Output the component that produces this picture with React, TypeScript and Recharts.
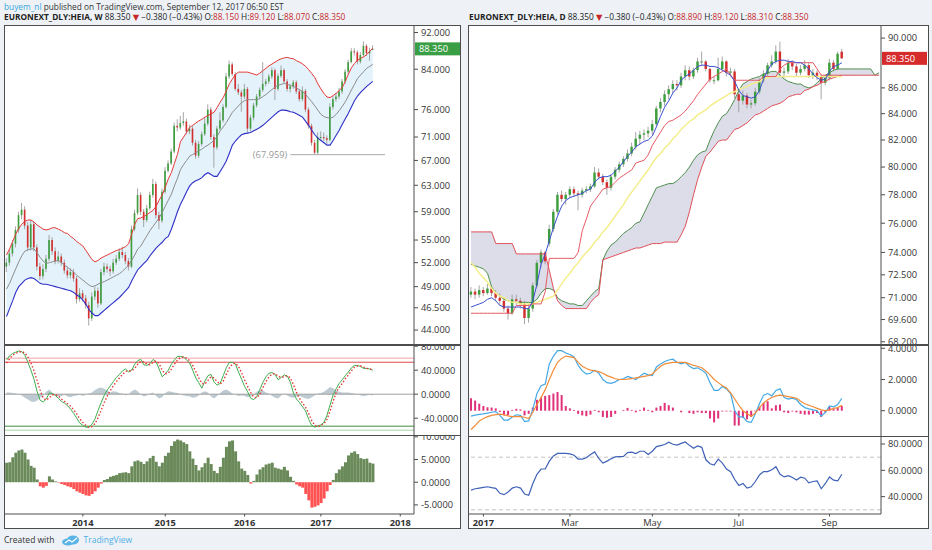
import React from 'react';
import { ComposedChart, Bar, Line, Area, XAxis, YAxis, ReferenceLine, Cell } from 'recharts';

const FONT = '"Open Sans", "Noto Sans", "DejaVu Sans", sans-serif';
const AXIS_COLOR = '#4d4d4d';
const TEXT = '#333333';
const UP = '#3d9e3d';
const DOWN = '#d42f2f';
const WICK = '#9c9c9c';
const VAL_RED = '#c62828';

// ================= LEFT PANEL (weekly, 2-week slots) =================
const W_SLOTS = 134;
// [open, high, low, close]
const wCandles: number[][] = [
  [51.5, 52.6, 50.8, 52.0], [52.0, 53.8, 51.6, 53.2], [53.2, 55.0, 52.8, 54.5], [54.5, 56.9, 54.0, 56.4], [56.4, 59.0, 56.0, 58.5],
  [58.5, 60.3, 57.9, 59.3], [59.3, 59.8, 56.5, 57.0], [57.0, 57.5, 53.5, 54.0], [54.0, 57.8, 53.6, 57.2], [57.2, 57.6, 53.5, 54.0],
  [54.0, 54.4, 51.0, 51.5], [51.5, 52.0, 49.8, 50.3], [50.3, 51.8, 49.9, 51.2], [51.2, 53.0, 50.8, 52.5], [52.5, 55.7, 52.2, 55.0],
  [55.0, 55.4, 53.0, 53.5], [53.5, 54.0, 51.8, 52.2], [52.2, 53.5, 51.9, 52.8], [52.8, 53.2, 51.6, 52.0], [52.0, 52.4, 50.6, 51.0],
  [51.0, 51.5, 50.0, 50.4], [50.4, 51.3, 50.0, 50.8], [50.8, 51.2, 49.6, 50.0], [50.0, 50.3, 47.0, 47.5], [47.5, 48.8, 47.2, 48.2],
  [48.2, 48.6, 47.2, 47.6], [47.6, 48.0, 46.4, 46.8], [46.8, 47.2, 44.5, 45.3], [45.3, 48.3, 45.0, 47.8], [47.8, 49.0, 47.4, 48.5],
  [48.5, 48.9, 46.5, 47.0], [47.0, 51.2, 46.8, 50.8], [50.8, 52.0, 50.4, 51.5], [51.5, 51.9, 50.7, 51.2], [51.2, 51.6, 50.3, 50.9],
  [50.9, 52.5, 50.6, 52.0], [52.0, 53.0, 51.7, 52.5], [52.5, 53.9, 52.2, 53.4], [53.4, 54.1, 52.6, 53.0], [53.0, 53.4, 51.8, 52.2],
  [52.2, 52.6, 51.0, 51.5], [51.5, 57.0, 51.3, 56.5], [56.5, 59.3, 56.2, 58.8], [58.8, 62.5, 58.5, 61.5], [61.5, 61.9, 58.5, 59.0],
  [59.0, 59.4, 56.8, 57.8], [57.8, 60.0, 57.5, 59.5], [59.5, 62.0, 59.2, 61.5], [61.5, 64.0, 61.1, 63.2], [63.2, 63.6, 58.0, 58.5],
  [58.5, 59.0, 56.5, 57.7], [57.7, 62.5, 57.4, 62.0], [62.0, 65.9, 61.7, 65.3], [65.3, 67.0, 65.0, 66.5], [66.5, 69.0, 66.2, 68.5],
  [68.5, 73.6, 68.2, 73.0], [73.0, 74.2, 72.0, 72.7], [72.7, 74.8, 72.3, 73.5], [73.5, 75.5, 73.0, 73.8], [73.8, 74.3, 71.5, 72.0],
  [72.0, 73.2, 71.5, 72.5], [72.5, 73.0, 69.5, 70.0], [70.0, 70.5, 67.3, 67.8], [67.8, 70.3, 67.4, 69.8], [69.8, 72.0, 69.4, 71.5],
  [71.5, 74.5, 71.2, 73.4], [73.4, 77.0, 73.0, 76.0], [76.0, 76.5, 70.5, 71.0], [71.0, 71.5, 65.8, 69.2], [69.2, 73.0, 68.8, 72.5],
  [72.5, 75.5, 72.2, 74.0], [74.0, 77.0, 73.6, 76.5], [76.5, 83.2, 76.2, 82.5], [82.5, 85.8, 82.0, 85.0], [85.0, 85.5, 82.6, 83.0],
  [83.0, 83.4, 79.6, 80.0], [80.0, 81.0, 78.8, 79.3], [79.3, 79.8, 75.6, 78.5], [78.5, 81.0, 78.0, 80.0], [80.0, 80.4, 71.8, 72.5],
  [72.5, 75.0, 72.0, 74.5], [74.5, 77.3, 74.0, 76.8], [76.8, 79.0, 76.4, 78.5], [78.5, 80.3, 78.0, 79.8], [79.8, 85.5, 79.4, 81.0],
  [81.0, 82.0, 80.5, 81.5], [81.5, 83.0, 81.0, 82.5], [82.5, 84.4, 82.0, 83.8], [83.8, 84.2, 77.8, 80.0], [80.0, 83.1, 79.6, 82.6],
  [82.6, 84.8, 82.2, 83.8], [83.8, 84.2, 81.0, 81.5], [81.5, 82.0, 79.5, 80.0], [80.0, 81.0, 79.3, 80.5], [80.5, 81.8, 80.0, 81.3],
  [81.3, 81.7, 79.0, 79.5], [79.5, 80.0, 77.5, 78.0], [78.0, 80.5, 77.6, 79.6], [79.6, 80.0, 75.5, 76.0], [76.0, 76.4, 72.5, 73.0],
  [73.0, 73.4, 69.5, 70.0], [70.0, 70.5, 67.96, 68.3], [68.3, 71.8, 68.0, 71.0], [71.0, 72.0, 70.4, 71.0], [71.0, 71.8, 70.3, 70.8],
  [70.8, 71.3, 69.8, 70.5], [70.5, 77.2, 70.2, 76.5], [76.5, 78.6, 76.0, 78.0], [78.0, 79.2, 77.5, 78.5], [78.5, 80.2, 78.0, 79.5],
  [79.5, 82.0, 79.0, 81.5], [81.5, 84.0, 81.0, 83.5], [83.5, 86.0, 83.0, 85.5], [85.5, 88.5, 85.2, 87.8], [87.8, 88.5, 86.9, 87.6],
  [87.6, 88.0, 85.0, 85.6], [85.6, 87.6, 85.2, 87.0], [87.0, 90.0, 86.6, 89.0], [89.0, 89.4, 86.8, 87.4], [87.4, 88.6, 85.8, 87.8],
  [88.15, 89.12, 88.07, 88.35],
];
const wUpper = [
  53.0, 53.8, 54.8, 55.8, 56.6, 57.2, 57.6, 57.8, 57.8, 57.5,
  57.1, 56.8, 56.5, 56.4, 56.5, 56.7, 56.7, 56.5, 56.3, 56.0,
  55.9, 55.5, 55.2, 54.8, 54.5, 54.2, 53.6, 53.0, 52.4, 52.1,
  52.3, 52.6, 52.8, 53.0, 53.2, 53.4, 53.6, 53.7, 53.9, 54.1,
  54.5, 55.8, 57.2, 58.0, 58.1, 58.3, 58.6, 58.9, 59.2, 59.8,
  60.7, 61.5, 62.7, 64.0, 65.0, 66.5, 68.0, 70.2, 71.0, 71.8,
  72.7, 73.1, 73.5, 73.9, 74.2, 74.6, 74.9, 75.2, 75.5, 76.4,
  77.4, 78.3, 79.6, 81.0, 82.0, 82.9, 83.4, 83.4, 83.4, 83.4,
  83.2, 83.0, 82.8, 83.2, 83.7, 84.2, 84.7, 85.1, 85.5, 85.9,
  86.2, 86.4, 86.5, 86.3, 86.2, 85.8, 85.5, 85.1, 84.6, 83.9,
  83.1, 82.3, 81.0, 80.0, 79.1, 78.4, 78.3, 78.7, 79.1, 79.7,
  80.3, 81.5, 83.0, 84.3, 85.2, 85.9, 86.3, 86.6, 87.1, 87.8,
  88.5,
];
const wMid = [
  48.7, 49.4, 50.3, 51.2, 52.1, 52.9, 53.5, 53.7, 53.8, 53.8,
  53.3, 52.7, 52.2, 51.9, 52.0, 52.1, 52.2, 52.3, 52.0, 51.7,
  51.4, 51.1, 50.8, 50.4, 50.1, 49.8, 49.5, 49.2, 49.0, 49.1,
  49.3, 49.5, 49.6, 49.8, 50.0, 50.2, 50.4, 50.6, 50.9, 51.3,
  51.7, 52.3, 53.0, 53.8, 54.2, 54.9, 55.6, 56.3, 56.9, 57.5,
  58.1, 58.9, 59.8, 60.7, 61.6, 62.9, 64.1, 65.5, 66.3, 67.0,
  67.7, 68.0, 68.3, 68.6, 68.9, 69.3, 69.6, 70.0, 70.4, 71.1,
  72.1, 72.8, 73.6, 74.5, 75.5, 76.1, 76.7, 77.3, 77.7, 77.9,
  77.9, 77.9, 77.9, 78.1, 78.5, 78.9, 79.4, 79.9, 80.4, 80.7,
  80.9, 81.1, 80.9, 80.7, 80.5, 80.2, 79.8, 79.5, 78.9, 78.2,
  77.5, 76.7, 75.9, 75.1, 74.7, 74.5, 74.4, 74.6, 75.1, 75.8,
  76.6, 77.5, 78.6, 79.8, 80.9, 82.1, 82.8, 83.5, 84.2, 84.6,
  85.0,
];
const wLower = [
  45.5, 46.4, 47.3, 48.3, 49.0, 49.4, 49.8, 50.0, 50.1, 50.0,
  49.7, 49.4, 49.3, 49.3, 49.2, 49.1, 49.0, 48.9, 48.8, 48.7,
  48.6, 48.5, 48.3, 48.0, 47.8, 47.4, 46.9, 46.3, 45.9, 45.6,
  45.6, 45.9, 46.2, 46.5, 46.8, 47.1, 47.4, 47.7, 48.1, 48.5,
  48.9, 49.7, 50.4, 51.1, 51.5, 51.9, 52.3, 52.9, 53.4, 53.9,
  54.3, 54.7, 55.2, 55.5, 56.5, 57.7, 59.0, 60.1, 61.0, 62.0,
  62.9, 63.4, 63.7, 63.9, 64.2, 64.7, 65.0, 64.7, 64.4, 64.4,
  65.2, 66.0, 66.9, 68.2, 69.6, 70.3, 70.9, 71.4, 71.6, 71.7,
  71.8, 72.1, 72.4, 72.7, 73.1, 73.6, 74.1, 74.6, 75.1, 75.6,
  75.9, 75.9, 75.8, 75.6, 75.5, 75.2, 74.9, 74.6, 73.8, 73.1,
  72.2, 71.4, 70.8, 70.4, 70.0, 69.6, 69.6, 70.4, 71.3, 72.2,
  73.3, 74.3, 75.3, 76.5, 77.7, 78.6, 79.3, 79.9, 80.5, 81.0,
  81.5,
];
const wOsc = [
  57, 64, 68, 70, 72, 71, 65, 53, 40, 25,
  5, -10, -13, -8, 2, 1, -2, -7, -12, -15,
  -19, -25, -32, -40, -48, -52, -55, -55, -50, -41,
  -27, -14, -2, 7, 14, 21, 28, 33, 39, 42,
  37, 40, 50, 56, 58, 49, 48, 51, 58, 54,
  42, 29, 34, 40, 50, 57, 63, 63, 62, 57,
  52, 40, 27, 19, 10, 22, 31, 33, 20, 15,
  18, 31, 44, 53, 53, 50, 37, 25, 13, 4,
  -7, -9, -4, 8, 20, 29, 35, 36, 33, 24,
  28, 32, 30, 20, 2, -8, -14, -21, -28, -42,
  -52, -55, -53, -51, -47, -35, -18, -1, 9, 18,
  24, 31, 37, 44, 48, 48, 46, 43, 43, 42,
  40,
];
const wSig = [
  52, 59, 65, 68, 70, 71, 69, 62, 52, 39,
  23, 7, -6, -10, -6, -1, -1, -3, -8, -12,
  -16, -20, -26, -33, -41, -47, -52, -55, -54, -49,
  -39, -27, -14, -3, 6, 14, 21, 27, 33, 38,
  39, 39, 43, 50, 55, 54, 50, 49, 53, 55,
  51, 40, 34, 35, 42, 50, 57, 61, 62, 60,
  56, 48, 38, 27, 18, 17, 23, 29, 27, 21,
  17, 22, 33, 44, 50, 52, 46, 36, 24, 13,
  3, -5, -6, 0, 11, 21, 29, 34, 34, 30,
  28, 29, 31, 27, 16, 3, -7, -15, -22, -32,
  -44, -52, -54, -52, -49, -42, -28, -12, 3, 11,
  18, 26, 32, 39, 45, 47, 47, 45, 43, 42,
  41,
];
const wDiff = [
  3, 3, 2, 1, 0, -2, -6, -9, -12, -13,
  -11, -6, -2, 4, 8, 3, -2, -4, -3, -1,
  -4, -5, -3, -2, -1, -3, -1, 1, 3, 7,
  10, 11, 9, 6, 3, 5, 4, 2, 1, -2,
  0, 5, 8, 5, -1, -4, -2, 1, 3, -3,
  -7, -5, 2, 5, 4, 3, 2, 0, -2, -3,
  -4, -6, -5, -2, 3, 5, 3, -4, -7, -3,
  2, 6, 8, 5, 1, -1, -3, -2, -3, -5,
  -4, 0, 4, 7, 6, 3, 1, -3, -6, -7,
  -2, 1, -2, -5, -6, -4, -3, -5, -7, -8,
  -5, -2, 1, 2, 4, 8, 12, 10, 6, 4,
  3, 3, 3, 2, 1, 0, -2, -3, -2, -1,
  -2,
];
const wHist = [
  4.3, 4.4, 5.5, 6.5, 7.0, 7.2, 6.5, 5.0, 3.6, 3.2,
  0.6, -0.9, -1.2, -0.8, 1.3, 0.6, 0.2, -0.1, -0.4, -0.6,
  -0.9, -1.1, -1.5, -2.0, -2.3, -2.6, -2.9, -3.0, -2.6, -2.0,
  -1.2, -0.3, 0.5, 0.7, 1.2, 1.4, 1.6, 2.0, 2.1, 2.2,
  2.0, 3.5, 4.6, 4.8, 4.5, 4.0, 4.6, 5.3, 5.8, 4.5,
  3.5, 4.3, 5.8, 6.5, 8.0, 9.0, 9.4, 9.2, 8.8, 8.4,
  6.8, 5.2, 3.8, 2.6, 3.3, 4.2, 5.4, 4.0, 2.5, 2.0,
  3.4, 5.4, 7.8, 9.0, 9.2, 6.8, 4.6, 3.0, 2.5, 1.6,
  -0.3, 0.3, 1.7, 2.8, 3.3, 3.9, 4.1, 4.3, 3.2, 3.0,
  2.8, 3.4, 2.6, 1.2, 0.3, -0.5, -0.9, -1.2, -2.6, -4.0,
  -5.6, -5.4, -5.1, -4.6, -3.6, -2.0, -0.6, 0.5, 2.0, 2.8,
  3.5, 4.4, 5.9, 6.5, 6.8, 6.2, 5.3, 5.1, 5.2, 4.3,
  4.1,
];
const wYearLabels: Record<number, string> = { 25: '2014', 52: '2015', 78: '2016', 103: '2017', 129: '2018' };
const wPriceTicks = [44, 46.5, 49, 52, 55, 59, 63, 67, 71, 76, 84, 92];
const wOscTicks = [-40, 0, 40, 80];
const wHistTicks = [-5, 0, 5, 10];
const wOscLevels = { hiOuter: 60, hi: 53.3, lo: -53.3, loOuter: -60 };
const wLowMark = { value: 67.959, from: 93, to: 124, label: '(67.959)' };
const wLast = 88.35;

// ================= RIGHT PANEL (daily, 2-day slots) =================
const D_SLOTS = 100;
const dCandles: number[][] = [
  [71.2, 71.7, 71.0, 71.4], [71.4, 71.6, 70.9, 71.2], [71.2, 71.8, 71.0, 71.5], [71.5, 71.7, 71.1, 71.3], [71.3, 71.9, 71.2, 71.6],
  [71.6, 71.8, 71.1, 71.3], [71.3, 71.5, 70.8, 71.0], [71.0, 71.3, 70.5, 70.8], [70.8, 71.0, 70.1, 70.3], [70.3, 70.5, 69.6, 70.0],
  [70.0, 71.2, 69.9, 70.9], [70.9, 71.2, 70.5, 70.8], [70.8, 71.0, 70.3, 70.6], [70.6, 70.8, 69.3, 69.7], [69.7, 70.6, 69.4, 70.3],
  [70.3, 72.0, 70.1, 71.8], [71.8, 73.5, 71.6, 73.3], [73.3, 74.2, 73.0, 74.0], [74.0, 74.1, 73.2, 73.4], [74.6, 75.9, 74.4, 75.6],
  [75.6, 77.0, 75.4, 76.8], [76.8, 78.2, 76.6, 78.0], [78.0, 78.3, 77.5, 77.7], [77.7, 78.2, 77.3, 78.0], [78.0, 78.6, 77.8, 78.4],
  [78.4, 78.6, 77.9, 78.1], [78.1, 78.3, 76.9, 78.0], [78.0, 78.5, 77.8, 78.3], [78.3, 78.6, 78.1, 78.4], [78.4, 78.8, 78.2, 78.6],
  [78.6, 80.0, 78.5, 79.6], [79.6, 79.9, 79.1, 79.3], [79.3, 79.5, 78.7, 78.9], [78.9, 79.1, 78.0, 78.5], [78.5, 79.5, 78.3, 79.3],
  [79.3, 80.0, 79.1, 79.8], [79.8, 80.4, 79.6, 80.2], [80.2, 80.8, 80.0, 80.6], [80.6, 81.3, 80.4, 81.0], [81.0, 81.8, 80.8, 81.5],
  [81.5, 82.6, 81.3, 82.1], [82.1, 82.7, 81.7, 82.4], [82.4, 82.8, 82.0, 82.5], [82.5, 83.0, 82.2, 82.7], [82.7, 83.5, 82.4, 83.2],
  [83.2, 84.6, 83.0, 84.4], [84.4, 85.2, 84.1, 84.9], [84.9, 85.8, 84.6, 85.5], [85.5, 86.2, 85.1, 85.9], [85.9, 86.6, 85.6, 86.3],
  [86.3, 86.6, 85.8, 86.2], [86.2, 87.2, 86.0, 86.9], [86.9, 87.8, 86.6, 87.4], [87.4, 87.7, 86.6, 86.9], [86.9, 87.6, 86.7, 87.4],
  [87.4, 88.4, 87.2, 88.1], [88.1, 88.9, 87.8, 88.1], [88.1, 88.2, 87.3, 87.5], [87.5, 87.6, 86.4, 86.6], [86.6, 86.9, 86.3, 86.6],
  [86.6, 88.4, 86.5, 87.5], [87.5, 88.5, 87.3, 88.1], [88.1, 88.2, 86.9, 87.2], [87.2, 87.6, 86.9, 87.3], [87.3, 87.5, 85.2, 85.5],
  [85.5, 85.9, 84.1, 85.0], [85.0, 85.8, 84.7, 85.4], [85.4, 85.6, 84.4, 84.7], [84.7, 85.1, 84.4, 84.8], [84.8, 86.0, 84.6, 85.7],
  [85.7, 86.8, 85.5, 86.6], [86.6, 87.4, 86.4, 87.1], [87.1, 88.0, 86.9, 87.8], [87.8, 88.6, 87.6, 88.1], [88.1, 89.4, 87.9, 88.9],
  [88.9, 89.7, 86.9, 87.2], [87.2, 87.6, 86.8, 87.3], [87.3, 88.3, 87.1, 88.0], [88.0, 88.2, 87.4, 87.7], [87.7, 87.9, 86.9, 87.2],
  [87.2, 87.8, 87.0, 87.5], [87.5, 88.2, 87.3, 87.8], [87.8, 88.0, 86.8, 87.0], [87.0, 87.5, 86.7, 87.2], [87.2, 87.4, 86.6, 86.9],
  [86.9, 87.1, 85.1, 86.4], [86.4, 87.0, 86.2, 86.8], [86.8, 88.3, 86.6, 88.0], [88.0, 88.2, 87.3, 87.5], [87.5, 88.9, 87.4, 88.73],
  [88.89, 89.12, 88.31, 88.35],
];
const dTenkan = [
  70.4, 70.5, 70.6, 70.7, 70.9, 71.0, 70.8, 70.5, 70.4, 70.4,
  70.4, 70.4, 70.4, 70.3, 70.3, 70.8, 71.9, 73.2, 73.9, 74.8,
  75.7, 76.5, 77.2, 77.6, 77.8, 77.9, 78.0, 78.1, 78.3, 78.4,
  78.9, 79.2, 79.3, 79.3, 79.4, 79.7, 80.0, 80.4, 80.8, 81.1,
  81.5, 81.7, 81.9, 82.0, 82.3, 83.0, 83.8, 84.5, 85.0, 85.6,
  86.0, 86.6, 86.9, 87.1, 87.4, 87.7, 87.8, 87.8, 87.7, 87.7,
  87.6, 87.4, 87.2, 87.0, 86.5, 85.8, 85.4, 85.3, 85.2, 85.3,
  85.8, 86.7, 87.4, 87.9, 88.1, 88.2, 88.2, 88.1, 88.1, 88.0,
  88.0, 87.8, 87.5, 87.1, 86.8, 86.6, 86.7, 87.3, 87.7, 87.8,
  88.0,
];
const dKijun = [
  70.0, 70.0, 70.0, 70.0, 70.0, 70.0, 70.0, 70.0, 70.0, 70.0,
  70.0, 70.5, 70.5, 70.5, 70.5, 70.6, 70.6, 70.6, 71.4, 73.6,
  73.6, 73.6, 73.6, 73.6, 73.6, 73.6, 74.0, 75.5, 76.3, 77.2,
  77.6, 78.0, 78.4, 78.5, 78.6, 78.9, 79.2, 79.4, 79.6, 79.8,
  80.3, 80.4, 80.5, 80.9, 81.6, 82.1, 82.6, 83.1, 83.4, 83.5,
  83.7, 83.9, 84.2, 84.6, 85.0, 85.5, 85.9, 86.3, 86.7, 86.9,
  87.1, 87.3, 87.5, 87.0, 86.6, 86.6, 86.6, 86.6, 86.6, 86.6,
  86.6, 86.9, 86.9, 86.9, 86.9, 87.5, 87.8, 88.0, 88.0, 88.0,
  88.0, 88.0, 88.0, 88.0, 87.5, 87.0, 87.0, 87.0, 87.0, 87.0,
  87.0,
];
const dSlowMa = [
  73.3, 73.0, 72.6, 72.3, 72.0, 71.6, 71.3, 71.1, 71.0, 70.8,
  70.7, 70.7, 70.6, 70.6, 70.6, 70.6, 70.7, 70.8, 70.9, 71.0,
  71.1, 71.5, 71.9, 72.3, 72.6, 73.0, 73.3, 73.7, 74.0, 74.3,
  74.7, 75.0, 75.4, 75.7, 76.1, 76.5, 76.9, 77.3, 77.8, 78.2,
  78.6, 79.0, 79.4, 79.8, 80.3, 80.7, 81.0, 81.4, 81.7, 82.1,
  82.4, 82.8, 83.1, 83.4, 83.6, 83.9, 84.1, 84.3, 84.6, 84.8,
  85.0, 85.2, 85.4, 85.6, 85.7, 85.9, 86.0, 86.1, 86.3, 86.4,
  86.5, 86.7, 86.8, 86.9, 86.9, 86.9, 86.9, 86.9, 86.9, 86.9,
  86.9, 86.9, 86.9, 86.9, 86.9, 86.9, 86.9, 86.9, 86.9, 86.9,
  86.9,
];
const dSpanA = [
  73.2, 73.1, 73.0, 72.9, 72.6, 71.7, 71.3, 71.1, 70.9, 70.8,
  70.7, 70.7, 70.7, 70.7, 70.7, 70.7, 70.9, 71.3, 71.6, 71.6,
  71.5, 71.0, 70.8, 70.7, 70.6, 70.6, 70.5, 70.5, 70.8, 71.1,
  71.4, 71.6, 73.5, 74.1, 74.5, 74.7, 75.0, 75.3, 75.5, 75.7,
  76.0, 76.1, 76.7, 77.3, 77.9, 78.5, 78.6, 78.7, 78.8, 78.8,
  79.0, 79.3, 79.6, 80.0, 80.5, 80.9, 81.1, 81.2, 82.0, 82.7,
  83.3, 83.8, 84.0, 84.5, 85.1, 85.8, 86.3, 86.5, 86.7, 86.8,
  86.9, 87.1, 87.2, 87.3, 87.3, 87.0, 86.7, 86.5, 86.4, 86.3,
  86.3, 86.1, 86.0, 86.1, 86.4, 86.7, 87.0, 87.2, 87.4, 87.5,
  87.5, 87.5, 87.5, 87.5, 87.5, 87.5, 87.5, 87.5, 87.0, 87.2,
];
const dSpanB = [
  75.4, 75.4, 75.4, 75.4, 75.4, 75.4, 74.6, 74.6, 74.6, 74.6,
  74.6, 73.9, 73.9, 73.9, 73.9, 73.9, 73.9, 73.9, 73.9, 72.8,
  71.6, 70.8, 70.5, 70.3, 70.3, 70.3, 70.3, 70.3, 70.3, 70.7,
  71.0, 71.2, 73.5, 73.6, 73.7, 73.8, 73.9, 74.0, 74.1, 74.2,
  74.3, 74.3, 74.4, 74.5, 74.6, 74.6, 74.6, 74.7, 74.7, 74.7,
  74.7, 75.2, 75.8, 76.8, 78.0, 79.1, 80.0, 80.8, 81.1, 81.5,
  81.9, 82.0, 82.0, 82.4, 82.8, 82.9, 83.1, 83.3, 83.6, 83.9,
  84.0, 84.2, 84.4, 84.6, 84.7, 84.8, 85.0, 85.3, 85.4, 85.5,
  85.5, 85.8, 85.9, 86.1, 86.2, 86.4, 86.5, 86.7, 86.8, 86.9,
  87.0, 87.0, 87.0, 87.0, 87.0, 87.0, 87.0, 87.0, 87.0, 87.0,
];
const dMacd = [
  -0.35, -0.28, -0.24, -0.2, -0.15, -0.1, -0.06, -0.3, -0.6, -0.6,
  -0.4, -0.26, -0.3, -0.7, -0.65, 0.1, 1.1, 1.6, 1.7, 3.0,
  3.5, 3.85, 3.85, 3.7, 3.6, 3.45, 2.9, 2.55, 2.35, 2.4,
  2.6, 2.4, 2.0, 1.8, 1.75, 1.85, 2.0, 2.05, 2.2, 2.1,
  2.0, 2.2, 2.4, 2.3, 2.25, 2.8, 3.0, 3.15, 3.25, 3.3,
  3.1, 3.0, 3.1, 2.85, 2.7, 2.75, 2.6, 2.4, 1.8, 1.3,
  1.3, 1.55, 1.4, 1.1, 0.0, -0.4, -0.4, -0.7, -0.75, -0.2,
  0.45, 1.0, 1.1, 0.95, 1.3, 1.4, 0.85, 0.75, 0.8, 0.7,
  0.4, 0.2, 0.12, 0.05, 0.0, -0.35, -0.1, 0.3, 0.25, 0.4,
  0.8,
];
const dSignal = [
  -1.2, -0.95, -0.65, -0.5, -0.38, -0.3, -0.25, -0.22, -0.25, -0.33,
  -0.38, -0.38, -0.38, -0.42, -0.5, -0.1, 0.4, 0.85, 1.35, 2.0,
  2.6, 3.1, 3.35, 3.5, 3.45, 3.4, 3.1, 2.85, 2.7, 2.6,
  2.55, 2.5, 2.4, 2.25, 2.15, 2.05, 2.0, 2.0, 2.02, 2.05,
  2.1, 2.15, 2.2, 2.25, 2.35, 2.6, 2.85, 3.0, 3.05, 3.1,
  3.1, 3.1, 3.1, 3.0, 2.9, 2.85, 2.75, 2.55, 2.3, 2.0,
  1.8, 1.6, 1.45, 1.15, 0.75, 0.35, 0.0, -0.2, -0.35, -0.15,
  0.2, 0.5, 0.7, 0.85, 0.95, 1.0, 0.95, 0.9, 0.85, 0.8,
  0.6, 0.45, 0.35, 0.25, 0.15, 0.05, 0.0, 0.05, 0.15, 0.2,
  0.35,
];
const dMacdHist = [
  0.8, 0.65, 0.45, 0.3, 0.22, 0.2, 0.15, -0.08, -0.3, -0.28,
  0.05, 0.12, 0.08, -0.3, -0.2, 0.2, 0.7, 0.85, 0.95, 1.0,
  1.1, 1.2, 1.0, 0.3, 0.15, 0.05, -0.2, -0.3, -0.35, -0.25,
  0.05, -0.1, -0.4, -0.45, -0.4, -0.2, 0.0, 0.05, 0.18, 0.05,
  -0.1, 0.05, 0.2, 0.05, -0.1, 0.2, 0.3, 0.5, 0.35, 0.2,
  0.0, -0.1, 0.0, -0.15, -0.2, -0.1, -0.15, -0.15, -0.5, -0.75,
  -0.5, -0.05, -0.05, -0.05, -0.95, -0.95, -0.45, -0.55, -0.4, -0.05,
  0.25, 0.5, 0.6, 0.15, 0.35, 0.4, -0.1, -0.15, -0.05, -0.1,
  -0.2, -0.25, -0.25, -0.2, -0.15, -0.4, -0.1, 0.25, 0.1, 0.2,
  0.3,
];
const dRsi = [
  45, 46, 46.5, 47, 47.5, 46.8, 46.3, 42.5, 41.5, 43.5,
  46.5, 47.5, 46.5, 42, 41, 50, 57, 61, 61, 67,
  71, 72.9, 72.9, 72.9, 72.5, 71.5, 68.5, 68.5, 69.5, 72,
  74, 69, 65.5, 67, 68.8, 70.2, 70.4, 70.6, 73.5, 73.8,
  72.8, 74.5, 74.5, 72, 74.5, 78, 78.8, 79.6, 81.4, 79.8,
  79.2, 80.5, 81.6, 79, 76.8, 78.5, 77.5, 68, 65, 64,
  68.5, 65.5, 61, 59, 53, 48.5, 50, 46.5, 47.5, 51.5,
  56.5, 59, 59, 60.5, 62.8, 57, 55, 56, 54.5, 52.7,
  54.8, 54, 50.5, 51.5, 52, 46, 50, 55, 52.5, 52,
  57,
];
const dMonthLabels: Record<number, string> = { 3: '2017', 24: 'Mar', 44: 'May', 65: 'Jul', 87: 'Sep' };
const dBoldLabels: Record<number, boolean> = { 3: true };
const dPriceTicks = [68.2, 69.6, 71, 72.5, 74, 76, 78, 80, 82, 84, 86, 90];
const dMacdTicks = [0, 2, 4];
const dRsiTicks = [40, 60, 80];
const dRsiLevels = [70, 30];
const dLast = 88.35;

// ================= rows =================
const wRows = Array.from({ length: W_SLOTS }, (_, i) => {
  const k = wCandles[i];
  return {
    i,
    o: k ? k[0] : null, h: k ? k[1] : null, l: k ? k[2] : null, c: k ? k[3] : null,
    up: wUpper[i] ?? null, mid: wMid[i] ?? null, lo: wLower[i] ?? null,
    osc: wOsc[i] ?? null, sig: wSig[i] ?? null, diff: wDiff[i] ?? null, hist: wHist[i] ?? null,
  };
});
const dRows = Array.from({ length: D_SLOTS }, (_, i) => {
  const k = dCandles[i];
  return {
    i,
    o: k ? k[0] : null, h: k ? k[1] : null, l: k ? k[2] : null, c: k ? k[3] : null,
    tenkan: dTenkan[i] ?? null, kijun: dKijun[i] ?? null, slow: dSlowMa[i] ?? null,
    sa: dSpanA[i] ?? null, sb: dSpanB[i] ?? null,
    macd: dMacd[i] ?? null, signal: dSignal[i] ?? null, mh: dMacdHist[i] ?? null, rsi: dRsi[i] ?? null,
  };
});

// ================= helpers =================
const Candle = (props: any) => {
  const { x, y, width, height, payload } = props;
  if (!payload || payload.h == null || x == null || y == null) return <g />;
  const { o, h, l, c } = payload;
  const top = Math.min(y, y + height);
  const bot = Math.max(y, y + height);
  const lh = Math.log(h);
  const ll = Math.log(l);
  const span = lh - ll || 1;
  const py = (v: number) => top + ((bot - top) * (lh - Math.log(v))) / span;
  const cx = x + width / 2;
  const bw = Math.max(1.2, width * 0.82);
  const y1 = py(Math.max(o, c));
  const y2 = py(Math.min(o, c));
  const col = c >= o ? UP : DOWN;
  return (
    <g>
      <line x1={cx} x2={cx} y1={top} y2={bot} stroke={WICK} strokeWidth={0.9} />
      <rect x={cx - bw / 2} y={y1} width={bw} height={Math.max(1, y2 - y1)} fill={col} />
    </g>
  );
};

const makeXTick = (labels: Record<number, string>, bold: (v: number) => boolean) => (props: any) => {
  const { x, y, payload } = props;
  const label = payload ? labels[payload.value] : undefined;
  if (!label) return <g />;
  return (
    <g>
      <line x1={x} x2={x} y1={y} y2={y + 2.5} stroke={AXIS_COLOR} />
      <text x={x} y={y + 11.5} textAnchor="middle" fontSize={9.3} fontWeight={bold(payload.value) ? 700 : 400} fill={TEXT} fontFamily={FONT}>
        {label}
      </text>
    </g>
  );
};

const badge = (text: string, color: string) => (props: any) => {
  const vb = props.viewBox || {};
  const x = (vb.x ?? 0) + (vb.width ?? 0);
  const y = vb.y ?? 0;
  return (
    <g>
      <rect x={x + 1} y={y - 6.5} width={45} height={13} fill={color} />
      <text x={x + 5} y={y + 3.4} fill="#ffffff" fontSize={9.3} fontFamily={FONT}>{text}</text>
    </g>
  );
};

const yTick = { fontSize: 9.3, fill: TEXT, fontFamily: FONT };
const fmt3 = (v: number) => v.toFixed(3);
const fmt4 = (v: number) => v.toFixed(4);
const noMargin = { top: 0, right: 0, bottom: 0, left: 0 };

const hiddenX = <XAxis dataKey="i" type="category" scale="band" hide />;

function yAxisProps(width: number) {
  return {
    orientation: 'right' as const,
    width,
    tick: yTick,
    tickSize: 4,
    tickMargin: 3,
    interval: 0 as const,
    axisLine: { stroke: AXIS_COLOR },
    tickLine: { stroke: AXIS_COLOR },
    allowDataOverflow: true,
    type: 'number' as const,
  };
}

const abs = (left: number, top: number): React.CSSProperties => ({ position: 'absolute', left, top });

export default function App() {
  return (
    <div style={{ position: 'absolute', left: 0, top: 0, width: 932, height: 550, background: '#eef2f7', overflow: 'hidden', fontFamily: FONT }}>
      {/* headers */}
      <div style={{ ...abs(4, 1), fontSize: 8.3, color: TEXT, whiteSpace: 'nowrap', lineHeight: '12px' }}>
        <span style={{ color: '#3aa6dc' }}>buyem_nl</span> published on TradingView.com, September 12, 2017 06:50 EST
      </div>
      <div style={{ ...abs(4, 11), fontSize: 8.3, color: '#222', whiteSpace: 'nowrap', lineHeight: '12px' }}>
        <b>EURONEXT_DLY:HEIA, W</b> 88.350 <span style={{ color: VAL_RED }}>▼</span> −0.380 (−0.43%) O:<span style={{ color: VAL_RED }}>88.150</span> H:<span style={{ color: VAL_RED }}>89.120</span> L:<span style={{ color: VAL_RED }}>88.070</span> C:<span style={{ color: VAL_RED }}>88.350</span>
      </div>
      <div style={{ ...abs(469, 11), fontSize: 8.3, color: '#222', whiteSpace: 'nowrap', lineHeight: '12px' }}>
        <b>EURONEXT_DLY:HEIA, D</b> 88.350 <span style={{ color: VAL_RED }}>▼</span> −0.380 (−0.43%) O:<span style={{ color: VAL_RED }}>88.890</span> H:<span style={{ color: VAL_RED }}>89.120</span> L:<span style={{ color: VAL_RED }}>88.310</span> C:<span style={{ color: VAL_RED }}>88.350</span>
      </div>

      {/* panel backgrounds */}
      <div style={{ ...abs(4, 25), width: 457, height: 504, background: '#fff', border: `1px solid ${AXIS_COLOR}`, boxSizing: 'border-box' }} />
      <div style={{ ...abs(468, 25), width: 461, height: 504, background: '#fff', border: `1px solid ${AXIS_COLOR}`, boxSizing: 'border-box' }} />

      {/* LEFT main */}
      <div style={abs(5, 26)}>
        <ComposedChart width={455} height={319} data={wRows} margin={noMargin} barCategoryGap="10%">
          {hiddenX}
          <YAxis {...yAxisProps(46)} scale="log" domain={[42.4, 93.5]} ticks={wPriceTicks} tickFormatter={fmt3} />
          <Area dataKey={(d: any) => (d.up == null ? null : [d.lo, d.up])} stroke="none" fill="#e4f2fb" fillOpacity={1} isAnimationActive={false} />
          <Line dataKey="up" stroke="#e53935" strokeWidth={1} dot={false} isAnimationActive={false} />
          <Line dataKey="mid" stroke="#8c8c8c" strokeWidth={1} dot={false} isAnimationActive={false} />
          <Line dataKey="lo" stroke="#2f2fc8" strokeWidth={1.1} dot={false} isAnimationActive={false} />
          <Bar dataKey={(d: any) => (d.h == null ? null : [d.l, d.h])} shape={<Candle />} isAnimationActive={false} />
          <ReferenceLine
            segment={[{ x: wLowMark.from, y: wLowMark.value }, { x: wLowMark.to, y: wLowMark.value }]}
            stroke="#a8a8a8"
            strokeWidth={1}
            label={{ value: wLowMark.label, position: 'left', fill: '#9a9a9a', fontSize: 9.3, fontFamily: FONT, offset: 3 }}
          />
          <ReferenceLine y={wLast} stroke="none" label={badge(wLast.toFixed(3), '#3a9e44')} />
        </ComposedChart>
      </div>

      {/* LEFT oscillator */}
      <div style={abs(5, 345)}>
        <ComposedChart width={455} height={90} data={wRows} margin={noMargin}>
          {hiddenX}
          <YAxis {...yAxisProps(46)} domain={[-68, 82]} ticks={wOscTicks} tickFormatter={fmt4} />
          <ReferenceLine y={wOscLevels.hiOuter} stroke="#f3a3a3" strokeWidth={1} />
          <ReferenceLine y={wOscLevels.hi} stroke="#e04848" strokeWidth={1} />
          <ReferenceLine y={wOscLevels.lo} stroke="#3f8f3f" strokeWidth={1} />
          <ReferenceLine y={wOscLevels.loOuter} stroke="#a6d3a6" strokeWidth={1} />
          <ReferenceLine y={0} stroke="#a0a0a0" strokeWidth={1} />
          <Area dataKey="diff" baseValue={0} stroke="none" fill="#b3c1ca" fillOpacity={0.85} isAnimationActive={false} />
          <Line dataKey="osc" stroke="#3fae4f" strokeWidth={1} dot={false} isAnimationActive={false} />
          <Line dataKey="sig" stroke="#e53935" strokeWidth={1.4} strokeDasharray="1.5 2" dot={false} isAnimationActive={false} />
        </ComposedChart>
      </div>

      {/* LEFT histogram */}
      <div style={abs(5, 435)}>
        <ComposedChart width={455} height={93} data={wRows} margin={noMargin} barCategoryGap="6%">
          <XAxis dataKey="i" type="category" scale="band" height={14} interval={0} tickSize={0} tickMargin={0} tickLine={false}
            axisLine={{ stroke: AXIS_COLOR }} tick={makeXTick(wYearLabels, () => true)} />
          <YAxis {...yAxisProps(46)} domain={[-7, 10.4]} ticks={wHistTicks} tickFormatter={fmt4} />
          <Bar dataKey="hist" isAnimationActive={false}>
            {wRows.map((r) => (
              <Cell key={r.i} fill={r.hist != null && r.hist >= 0 ? '#6a8a5a' : '#ff5252'} />
            ))}
          </Bar>
        </ComposedChart>
      </div>

      {/* RIGHT main */}
      <div style={abs(469, 26)}>
        <ComposedChart width={459} height={319} data={dRows} margin={noMargin} barCategoryGap="10%">
          {hiddenX}
          <YAxis {...yAxisProps(47)} scale="log" domain={[68.0, 91.0]} ticks={dPriceTicks} tickFormatter={fmt3} />
          <Area dataKey={(d: any) => (d.sa == null ? null : [d.sa, d.sb])} stroke="none" fill="#dcdde9" fillOpacity={1} isAnimationActive={false} />
          <Line dataKey="sa" stroke="#4f8f4f" strokeWidth={1} dot={false} isAnimationActive={false} />
          <Line dataKey="sb" stroke="#e0505a" strokeWidth={1} dot={false} isAnimationActive={false} />
          <Line dataKey="slow" stroke="#f4ee8a" strokeWidth={1.5} dot={false} isAnimationActive={false} />
          <Line dataKey="kijun" stroke="#e65a64" strokeWidth={1} dot={false} isAnimationActive={false} />
          <Line dataKey="tenkan" stroke="#3a4fd0" strokeWidth={1} dot={false} isAnimationActive={false} />
          <Bar dataKey={(d: any) => (d.h == null ? null : [d.l, d.h])} shape={<Candle />} isAnimationActive={false} />
          <ReferenceLine y={dLast} stroke="none" label={badge(dLast.toFixed(3), '#d62b2b')} />
        </ComposedChart>
      </div>

      {/* RIGHT MACD */}
      <div style={abs(469, 345)}>
        <ComposedChart width={459} height={91} data={dRows} margin={noMargin}>
          {hiddenX}
          <YAxis {...yAxisProps(47)} domain={[-1.62, 4.21]} ticks={dMacdTicks} tickFormatter={fmt4} />
          <Bar dataKey="mh" fill="#e0307a" barSize={2} isAnimationActive={false} />
          <Line dataKey="macd" stroke="#45a8e6" strokeWidth={1.2} dot={false} isAnimationActive={false} />
          <Line dataKey="signal" stroke="#f28c38" strokeWidth={1.2} dot={false} isAnimationActive={false} />
        </ComposedChart>
      </div>

      {/* RIGHT RSI */}
      <div style={abs(469, 436)}>
        <ComposedChart width={459} height={92} data={dRows} margin={noMargin}>
          <XAxis dataKey="i" type="category" scale="band" height={14} interval={0} tickSize={0} tickMargin={0} tickLine={false}
            axisLine={{ stroke: AXIS_COLOR }} tick={makeXTick(dMonthLabels, (v) => !!dBoldLabels[v])} />
          <YAxis {...yAxisProps(47)} domain={[26.8, 86.1]} ticks={dRsiTicks} tickFormatter={fmt4} />
          {dRsiLevels.map((lv) => (
            <ReferenceLine key={lv} y={lv} stroke="#c4c4c4" strokeDasharray="4 3" />
          ))}
          <Line dataKey="rsi" stroke="#3f62b8" strokeWidth={1.2} dot={false} isAnimationActive={false} />
        </ComposedChart>
      </div>

      {/* pane separators */}
      <div style={{ ...abs(5, 344), width: 455, height: 2, background: AXIS_COLOR }} />
      <div style={{ ...abs(5, 434.5), width: 455, height: 1.5, background: AXIS_COLOR }} />
      <div style={{ ...abs(469, 344), width: 459, height: 2, background: AXIS_COLOR }} />
      <div style={{ ...abs(469, 435.5), width: 459, height: 1.5, background: AXIS_COLOR }} />

      {/* footer */}
      <div style={{ ...abs(4, 534), fontSize: 8.5, color: TEXT, whiteSpace: 'nowrap', lineHeight: '12px', display: 'flex', alignItems: 'center' }}>
        <span>Created with</span>
        <svg width={20} height={11} style={{ marginLeft: 6, marginRight: 3 }} viewBox="0 0 20 11">
          <ellipse cx={7} cy={7} rx={6} ry={3.5} fill="#5ab4e6" />
          <ellipse cx={12} cy={5} rx={6} ry={4.5} fill="#5ab4e6" />
          <path d="M4 8 L8 5 L11 7 L16 3" stroke="#fff" strokeWidth={1.2} fill="none" />
        </svg>
        <span style={{ color: '#4eb0e6' }}>TradingView</span>
      </div>
    </div>
  );
}
